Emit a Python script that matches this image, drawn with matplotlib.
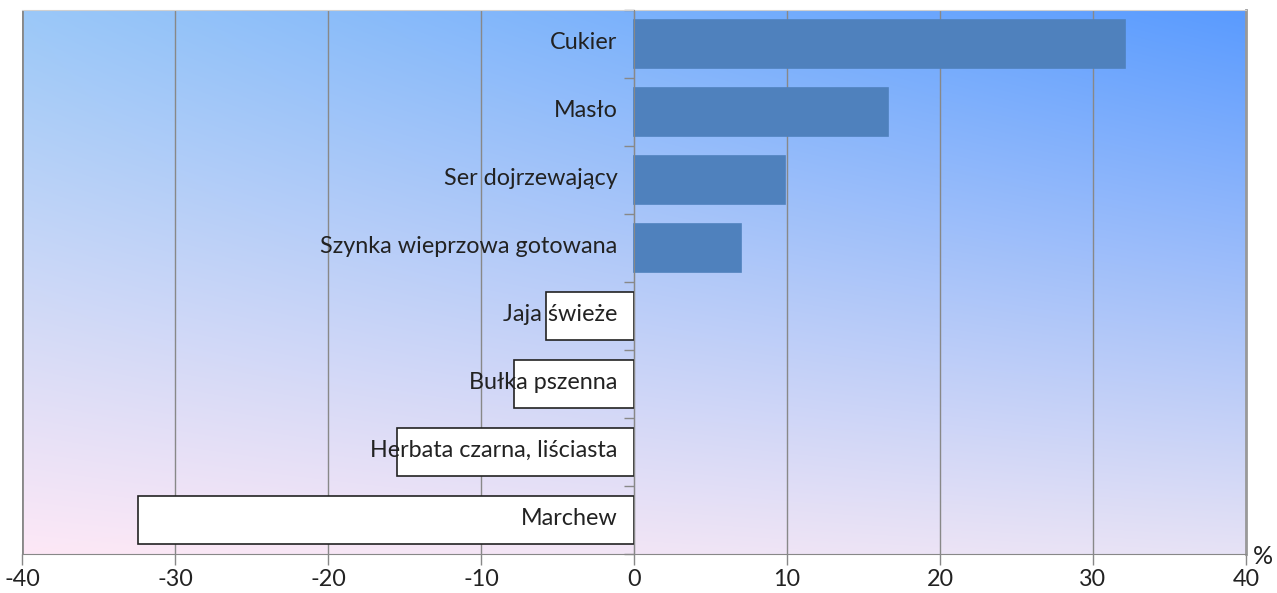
import numpy as np
import matplotlib
matplotlib.use('Agg')
import matplotlib.pyplot as plt
from matplotlib.ticker import FixedLocator

# data (% change)
products = ["Cukier", "Masło", "Ser dojrzewający", "Szynka wieprzowa gotowana",
            "Jaja świeże", "Bułka pszenna", "Herbata czarna, liściasta", "Marchew"]
changes = [32.1, 16.6, 9.9, 7.0, -5.75, -7.85, -15.5, -32.4]
xticks = [-40, -30, -20, -10, 0, 10, 20, 30, 40]

plt.rcParams['font.family'] = ['Lato', 'DejaVu Sans']

fig = plt.figure(figsize=(12.77, 5.93), dpi=100)
ax = fig.add_axes([22 / 1277, 1 - 554 / 593, 1224 / 1277, 544 / 593])

n = len(products)
ypos = np.arange(n)[::-1]

# background gradient (corner colours)
tl = np.array([155, 200, 248]) / 255
tr = np.array([90, 155, 255]) / 255
bl = np.array([253, 232, 246]) / 255
br = np.array([230, 226, 245]) / 255
gx = np.linspace(0, 1, 200)[None, :, None]
gy = np.linspace(0, 1, 100)[:, None, None]
grad = (1 - gy) * ((1 - gx) * tl + gx * tr) + gy * ((1 - gx) * bl + gx * br)
ax.imshow(grad, extent=[-40, 40, -0.5, n - 0.5], aspect='auto', zorder=0,
          interpolation='bilinear')

colors = ['#4F81BD' if v > 0 else 'white' for v in changes]
edges = ['#4F81BD' if v > 0 else '#222222' for v in changes]
ax.barh(ypos, changes, height=0.72, color=colors, edgecolor=edges,
        linewidth=1.2, zorder=3)

for y, name in zip(ypos, products):
    ax.annotate(name, xy=(0, y), xytext=(-12, 1), textcoords='offset points',
                ha='right', va='center', fontsize=16.8, color='#222222', zorder=5)

ax.set_xlim(-40, 40)
ax.set_ylim(-0.5, n - 0.5)
ax.set_xticks(xticks)
ax.set_xticklabels([str(t) for t in xticks], fontsize=16.8, color='#222222')
ax.tick_params(axis='x', direction='out', length=8, width=1, color='#888888', pad=3)
ax.grid(axis='x', color='#888888', linewidth=1, zorder=1)
ax.set_axisbelow(True)

# vertical axis at zero with ticks between categories
ax.spines['left'].set_position(('data', 0))
ax.spines['left'].set_color('#888888')
ax.spines['left'].set_zorder(4)
ax.yaxis.set_major_locator(FixedLocator(np.arange(-0.5, n, 1.0)))
ax.set_yticklabels([])
ax.tick_params(axis='y', direction='out', length=7, width=1, color='#888888')
ax.spines['bottom'].set_color('#888888')
ax.spines['top'].set_color('#d0d0d0')
ax.spines['right'].set_color('#999999')
ax.spines['right'].set_linewidth(2)
# left border of the plot area
ax.axvline(-40, color='#888888', linewidth=2, zorder=2)

ax.text(1.014, -0.005, '%', transform=ax.transAxes, fontsize=18, color='#222222',
        ha='center', va='center')

fig.savefig('out.png', dpi=100)
